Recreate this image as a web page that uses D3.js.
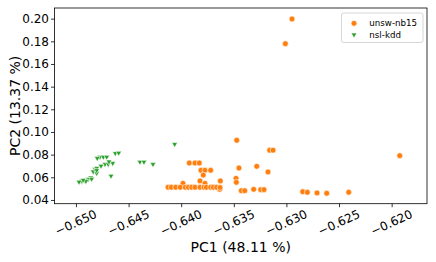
<!DOCTYPE html>
<html><head><meta charset="utf-8">
<script src="https://cdn.jsdelivr.net/npm/d3@7"></script>
<style>body{margin:0;background:#fff}svg{display:block;font-family:"DejaVu Sans",sans-serif}</style>
</head><body><svg id="c" width="436" height="262"></svg>
<script>
const seriesNames = ["unsw-nb15", "nsl-kdd"];
const unswX = [-0.62947,-0.63010,-0.63472,-0.63159,-0.63127,-0.61923,-0.63451,-0.63282,-0.63175,-0.63628,-0.63479,-0.63476,-0.63634,-0.63429,-0.63396,-0.63311,-0.63244,-0.63213,-0.62845,-0.62801,-0.62709,-0.62617,-0.62408,-0.63923,-0.63869,-0.63828,-0.63812,-0.63774,-0.63720,-0.63790,-0.63821,-0.63774,-0.63983,-0.64125,-0.64094,-0.64052,-0.64009,-0.63961,-0.63932,-0.63900,-0.63869,-0.63821,-0.63783,-0.63761,-0.63720,-0.63695,-0.63663,-0.63631];
const unswY = [0.1997,0.1779,0.0927,0.0839,0.0839,0.0791,0.0682,0.0697,0.0647,0.0568,0.0591,0.0556,0.0494,0.0482,0.0482,0.0494,0.0491,0.0491,0.0473,0.0468,0.0462,0.0459,0.0468,0.0726,0.0726,0.0726,0.0662,0.0662,0.0662,0.0620,0.0568,0.0547,0.0547,0.0512,0.0512,0.0512,0.0512,0.0512,0.0512,0.0512,0.0512,0.0512,0.0512,0.0512,0.0512,0.0512,0.0512,0.0510];
const nslX = [-0.64062,-0.64626,-0.64594,-0.64392,-0.64354,-0.64268,-0.64651,-0.64667,-0.64772,-0.64740,-0.64708,-0.64798,-0.64724,-0.64693,-0.64686,-0.64819,-0.64803,-0.64836,-0.64803,-0.64803,-0.64860,-0.64883,-0.64914,-0.64946,-0.64943,-0.64905,-0.64851,-0.64971,-0.64762,-0.64931];
const nslY = [0.0892,0.0812,0.0815,0.0735,0.0735,0.0715,0.0724,0.0612,0.0779,0.0779,0.0779,0.0768,0.0715,0.0715,0.0738,0.0671,0.0680,0.0650,0.0636,0.0662,0.0597,0.0583,0.0570,0.0561,0.0568,0.0565,0.0585,0.0559,0.0700,0.0576];
const xTicks = [-0.650,-0.645,-0.640,-0.635,-0.630,-0.625,-0.620];
const yTicks = [0.04,0.06,0.08,0.10,0.12,0.14,0.16,0.18,0.20];
const xLabel = "PC1 (48.11 %)", yLabel = "PC2 (13.37 %)";
const colors = ["#ff7f0e", "#2ca02c"];

const svg = d3.select("#c");
const L = 54.5, R = 427, T = 8, B = 203.7;
const x = d3.scaleLinear().domain([-0.65204, -0.61664]).range([L, R]);
const y = d3.scaleLinear().domain([0.0367, 0.2094]).range([B, T]);

const fmtX = v => (v < 0 ? "\u2212" : "") + Math.abs(v).toFixed(3);

// x axis
const xa = svg.append("g").attr("transform", `translate(0,${B})`)
  .call(d3.axisBottom(x).tickValues(xTicks).tickSize(3.5).tickFormat(""));
xa.select(".domain").remove();
xa.selectAll(".tick line").attr("stroke", "#000").attr("stroke-width", 0.8);
xTicks.forEach(t => {
  svg.append("text").attr("transform", `translate(${x(t)},${B + 19}) rotate(-25)`)
    .attr("text-anchor", "middle").attr("dominant-baseline", "central")
    .attr("font-size", 12).attr("fill", "#000").text(fmtX(t));
});
// y axis
const ya = svg.append("g").attr("transform", `translate(${L},0)`)
  .call(d3.axisLeft(y).tickValues(yTicks).tickSize(3.5).tickPadding(2).tickFormat(d3.format(".2f")));
ya.select(".domain").remove();
ya.selectAll(".tick line").attr("stroke", "#000").attr("stroke-width", 0.8);
ya.selectAll(".tick text").attr("font-size", 12).attr("fill", "#000").attr("font-family", "DejaVu Sans");

// frame
svg.append("rect").attr("x", L).attr("y", T).attr("width", R - L).attr("height", B - T)
  .attr("fill", "none").attr("stroke", "#000").attr("stroke-width", 0.8);

// points
const unsw = unswX.map((v, i) => [v, unswY[i]]);
const nsl = nslX.map((v, i) => [v, nslY[i]]);
svg.append("g").selectAll("circle").data(unsw).join("circle")
  .attr("cx", d => x(d[0])).attr("cy", d => y(d[1])).attr("r", 2.9)
  .attr("fill", colors[0]).attr("stroke", "#fff").attr("stroke-width", 0.6);
const tri = d3.symbol().type(d3.symbolTriangle).size(14);
svg.append("g").selectAll("path").data(nsl).join("path")
  .attr("d", tri).attr("transform", d => `translate(${x(d[0])},${y(d[1])}) rotate(180)`)
  .attr("fill", colors[1]).attr("stroke", "#fff").attr("stroke-width", 0.6);

// axis labels
svg.append("text").attr("x", (L + R) / 2).attr("y", 252).attr("text-anchor", "middle")
  .attr("font-size", 14).attr("fill", "#000").text(xLabel);
svg.append("text").attr("transform", `translate(19.5,${(T + B) / 2}) rotate(-90)`).attr("text-anchor", "middle")
  .attr("font-size", 14).attr("fill", "#000").text(yLabel);

// legend
const lg = svg.append("g");
lg.append("rect").attr("x", 341.5).attr("y", 13).attr("width", 81.5).attr("height", 29.5).attr("rx", 2)
  .attr("fill", "#fff").attr("fill-opacity", 0.8).attr("stroke", "#ccc").attr("stroke-width", 0.8);
seriesNames.forEach((n, i) => {
  const cy = 23.3 + i * 11.4;
  if (i === 0) lg.append("circle").attr("cx", 354).attr("cy", cy).attr("r", 2.9).attr("fill", colors[0]).attr("stroke", "#fff").attr("stroke-width", 0.6);
  else lg.append("path").attr("d", tri).attr("transform", `translate(354,${cy}) rotate(180)`).attr("fill", colors[1]).attr("stroke", "#fff").attr("stroke-width", 0.6);
  lg.append("text").attr("x", 369.3).attr("y", cy).attr("dominant-baseline", "central")
    .attr("font-size", 8.7).attr("fill", "#000").text(n);
});
</script></body></html>
